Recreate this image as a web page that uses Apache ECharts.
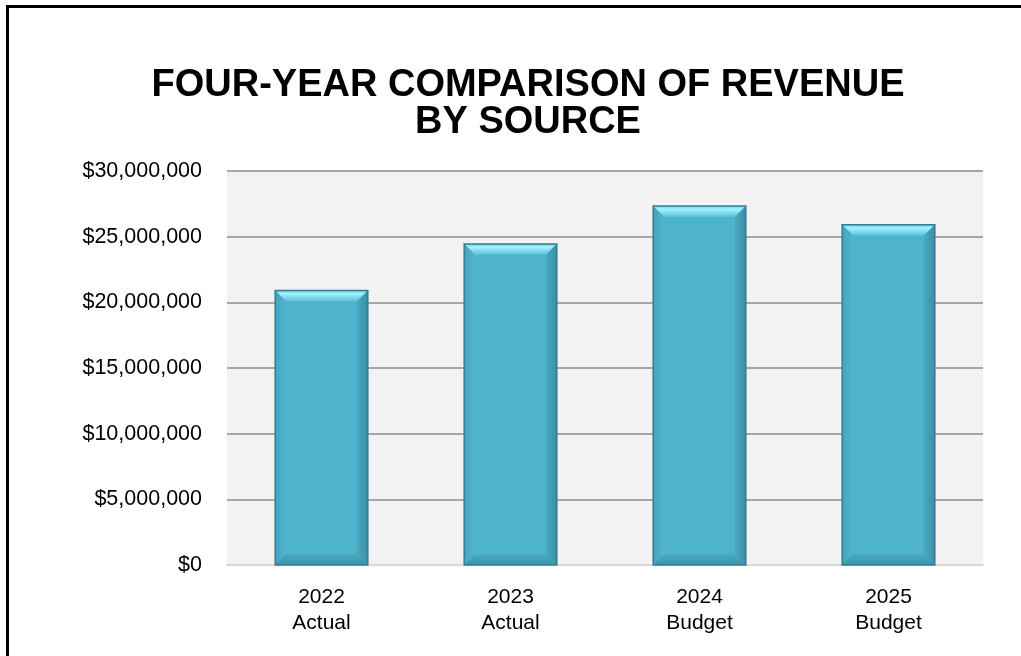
<!DOCTYPE html>
<html>
<head>
<meta charset="utf-8">
<script src="https://cdn.jsdelivr.net/npm/echarts@6/dist/echarts.min.js"></script>
<style>
  html, body { margin: 0; padding: 0; background: #fff; }
  #frame { position: absolute; left: 6px; top: 5px; width: 1015px; height: 651px;
           border-left: 3px solid #000; border-top: 3px solid #000; box-sizing: border-box; }
  #chart { position: absolute; left: 0; top: 0; width: 1021px; height: 656px; }
</style>
</head>
<body>
<div id="frame"></div>
<div id="chart"></div>
<script>
// Revenue totals by fiscal year
const years = ['2022', '2023', '2024', '2025'];
const basis = ['Actual', 'Actual', 'Budget', 'Budget'];
const revenue = [20900000, 24450000, 27330000, 25900000];
const yTicks = [0, 5000000, 10000000, 15000000, 20000000, 25000000, 30000000];

const categories = years.map((y, i) => y + '\n' + basis[i]);

function money(v) {
  return '$' + v.toLocaleString('en-US');
}

// Beveled bar: a flat face framed by four sloped edges
function bevelBar(params, api) {
  const idx = api.value(0);
  const top = api.coord([idx, api.value(1)]);
  const base = api.coord([idx, 0]);
  const w = api.size([1, 0])[0] * 0.49;
  const x0 = top[0] - w / 2, x1 = top[0] + w / 2;
  const y0 = top[1], y1 = base[1];
  const b = Math.min(11, (y1 - y0) / 2);
  const poly = (pts, fill) => ({ type: 'polygon', shape: { points: pts }, style: { fill: fill } });
  const grad = (x, y, x2, y2, c0, c1) => new echarts.graphic.LinearGradient(x, y, x2, y2, [
    { offset: 0, color: c0 }, { offset: 1, color: c1 }]);
  return {
    type: 'group',
    children: [
      { type: 'rect', shape: { x: x0, y: y0, width: w, height: y1 - y0 },
        style: { fill: '#4eb3cc' } },
      poly([[x0, y0], [x1, y0], [x1 - b, y0 + b], [x0 + b, y0 + b]],
        new echarts.graphic.LinearGradient(0, 0, 0, 1, [
          { offset: 0, color: '#6fd3e6' },
          { offset: 0.3, color: '#a4f2fc' },
          { offset: 1, color: '#58c0d8' }])),
      poly([[x0, y0], [x0 + b, y0 + b], [x0 + b, y1 - b], [x0, y1]],
        grad(0, 0, 1, 0, '#45a4bd', '#51b6ce')),
      poly([[x1, y0], [x1, y1], [x1 - b, y1 - b], [x1 - b, y0 + b]],
        grad(1, 0, 0, 0, '#3a90a6', '#4aa9c2')),
      poly([[x0, y1], [x1, y1], [x1 - b, y1 - b], [x0 + b, y1 - b]],
        grad(0, 1, 0, 0, '#3b92a8', '#4aaac3')),
      { type: 'rect', shape: { x: x0, y: y0, width: w, height: y1 - y0 },
        style: { fill: 'none', stroke: '#337d90', lineWidth: 1.5 } }
    ]
  };
}

const chart = echarts.init(document.getElementById('chart'), null, { renderer: 'canvas' });
chart.setOption({
  backgroundColor: 'transparent',
  animation: false,
  title: {
    text: 'FOUR-YEAR COMPARISON OF REVENUE\nBY SOURCE',
    left: 523,
    textAlign: 'center',
    top: 62,
    textStyle: {
      fontFamily: 'Liberation Sans, Arial, sans-serif',
      fontWeight: 'bold',
      fontSize: 38,
      lineHeight: 37,
      color: '#000'
    }
  },
  grid: {
    left: 227, right: 38, top: 171, bottom: 91,
    show: true, backgroundColor: '#f2f2f2', borderWidth: 0
  },
  xAxis: {
    type: 'category',
    data: categories,
    axisTick: { show: false },
    axisLine: { lineStyle: { color: '#d9d9d9', width: 2 } },
    axisLabel: {
      margin: 19,
      fontFamily: 'Liberation Sans, Arial, sans-serif',
      fontSize: 21,
      lineHeight: 26,
      color: '#000'
    }
  },
  yAxis: {
    type: 'value',
    min: yTicks[0],
    max: yTicks[yTicks.length - 1],
    interval: yTicks[1] - yTicks[0],
    axisLine: { show: false },
    axisTick: { show: false },
    splitLine: { lineStyle: { color: '#a6a6a6', width: 2 } },
    axisLabel: {
      margin: 25,
      formatter: money,
      fontFamily: 'Liberation Sans, Arial, sans-serif',
      fontSize: 21.5,
      color: '#000'
    }
  },
  series: [{
    type: 'custom',
    renderItem: bevelBar,
    encode: { x: 0, y: 1 },
    data: revenue.map((v, i) => [i, v])
  }]
});
</script>
</body>
</html>
